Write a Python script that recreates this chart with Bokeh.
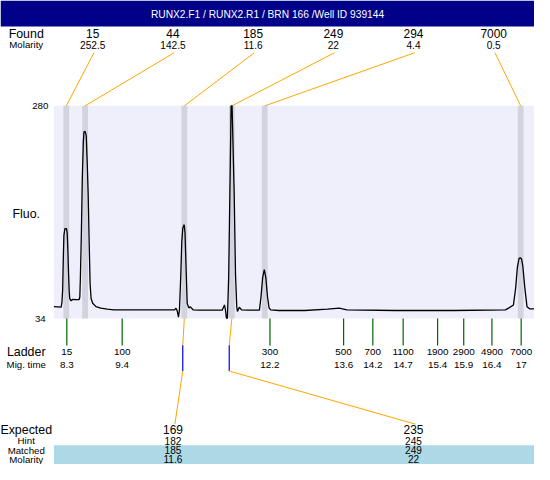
from bokeh.plotting import figure
from bokeh.models import Range1d
from bokeh.embed import file_html
from bokeh.resources import INLINE
from bokeh.core.properties import value

# ---------------- data ----------------
title_text = "RUNX2.F1 / RUNX2.R1 / BRN 166 /Well ID 939144"

fluo_min, fluo_max = 34, 280

found_sizes = ["15", "44", "185", "249", "294", "7000"]
found_molarity = ["252.5", "142.5", "11.6", "22", "4.4", "0.5"]
found_times = [8.29, 8.65, 10.55, 11.46, 12.09, 16.99]

ladder_sizes = ["15", "100", "300", "500", "700", "1100", "1900", "2900", "4900", "7000"]
ladder_times = [8.30, 9.36, 12.19, 13.60, 14.16, 14.74, 15.40, 15.90, 16.44, 17.00]
ladder_time_labels = ["8.3", "9.4", "12.2", "13.6", "14.2", "14.7", "15.4", "15.9", "16.4", "17"]

expected_sizes = ["169", "235"]
hint_sizes = ["182", "245"]
matched_sizes = ["185", "249"]
matched_molarity = ["11.6", "22"]
matched_times = [10.55, 11.46]
hint_times = [10.52, 11.41]
expected_slot = [1, 4]

trace_time = [8.053, 8.192, 8.207, 8.220, 8.233, 8.244, 8.263, 8.294, 8.307, 8.319,
              8.332, 8.345, 8.356, 8.382, 8.406, 8.480, 8.536, 8.549, 8.560, 8.579,
              8.597, 8.616, 8.629, 8.653, 8.672, 8.690, 8.709, 8.728, 8.746, 8.765,
              8.796, 8.858, 8.951, 9.075, 9.200, 9.633, 10.364, 10.390, 10.414, 10.438,
              10.457, 10.483, 10.501, 10.520, 10.538, 10.550, 10.563, 10.587, 10.605, 10.637,
              10.661, 10.717, 10.841, 11.275, 11.319, 11.338, 11.356, 11.375, 11.399, 11.431,
              11.446, 11.464, 11.483, 11.505, 11.530, 11.554, 11.567, 11.604, 11.646, 11.771,
              11.988, 12.018, 12.050, 12.081, 12.111, 12.143, 12.174, 12.204, 12.360, 12.855,
              13.290, 13.518, 13.662, 14.591, 15.707, 16.698, 16.759, 16.852, 16.896, 16.926,
              16.958, 16.982, 17.008, 17.032, 17.069, 17.112, 17.162, 17.255]
trace_fluo = [47.8, 47.1, 53.0, 66.4, 103.7, 129.8, 138.0, 138.0, 133.5, 114.8,
              88.8, 66.4, 57.1, 54.5, 56.0, 55.8, 56.0, 58.9, 81.3, 133.5,
              196.9, 237.8, 250.1, 250.1, 245.3, 215.5, 178.2, 122.3, 73.9, 57.1,
              51.6, 47.75, 46.0, 44.8, 44.1, 44.1, 44.1, 46.0, 42.9, 35.5,
              44.1, 85.4, 122.3, 138.0, 142.1, 142.1, 133.5, 85.4, 51.6, 46.0,
              47.75, 44.1, 43.7, 43.7, 49.7, 44.1, 34.8, 34.0, 81.3, 215.5,
              280.0, 280.0, 234.2, 178.2, 85.4, 47.75, 42.2, 47.1, 44.1, 43.7,
              43.7, 58.9, 81.3, 90.7, 81.3, 58.9, 46.0, 44.1, 43.3, 43.3,
              44.8, 46.0, 44.1, 43.3, 43.3, 44.1, 46.0, 49.7, 70.1, 92.5,
              103.3, 104.4, 102.8, 94.4, 70.1, 47.75, 45.2, 45.2]

# ---------------- layout ----------------
REF_W, REF_H = 550, 480
W, H = 534, 464
S = W / REF_W
X_T0, X_P0, X_K = 8.3, 68.3, 53.79
Y_TOP_PX, Y_BOT_PX = 109, 329
PLOT_LEFT_PX = 55
FONT = "Liberation Sans"


def tx(px):
    return X_T0 + (px - X_P0) / X_K


def fy(py):
    return fluo_min + (Y_BOT_PX - py) * (fluo_max - fluo_min) / (Y_BOT_PX - Y_TOP_PX)


slot_px = [95 + 82.6 * i for i in range(6)]
band_half = 3.0 / X_K

p = figure(width=W, height=H,
           x_range=Range1d(tx(0), tx(REF_W)), y_range=Range1d(fy(REF_H), fy(0)),
           output_backend="svg", toolbar_location=None, min_border=0,
           x_axis_location=None, y_axis_location=None)
p.outline_line_color = None
p.grid.visible = False
p.background_fill_color = "white"
p.border_fill_color = "white"


def txt(xs, ys, texts, size, color="black", align="center"):
    p.text(x=xs, y=ys, text=texts, text_font=value(FONT),
           text_font_size=value(f"{size * S:.1f}px"), text_color=color,
           text_align=align, text_baseline="middle")


# title bar
p.quad(left=[tx(0)], right=[tx(REF_W)], bottom=[fy(27)], top=[fy(0)],
       fill_color="#000088", line_color=None)
txt([tx(275)], [fy(14)], [title_text], 10.5, color="white")

# plot background
p.quad(left=[tx(PLOT_LEFT_PX)], right=[tx(REF_W)], bottom=[fluo_min], top=[fluo_max],
       fill_color="#EFEFFC", line_color=None)

# peak bands
p.quad(left=[t - band_half for t in found_times], right=[t + band_half for t in found_times],
       bottom=[fluo_min] * len(found_times), top=[fluo_max] * len(found_times),
       fill_color="#D3D3E0", line_color=None)

# ladder ticks
p.segment(x0=ladder_times, y0=[fluo_min] * len(ladder_times),
          x1=ladder_times, y1=[fy(357)] * len(ladder_times),
          line_color="#006400", line_width=1.2)

# found connectors
p.segment(x0=[tx(s + 1.3) for s in slot_px], y0=[fy(54)] * 6,
          x1=found_times, y1=[fluo_max] * 6, line_color="#FFA500", line_width=1)

# expected connectors
p.segment(x0=matched_times, y0=[fluo_min] * 2, x1=hint_times, y1=[fy(356.7)] * 2,
          line_color="#FFA500", line_width=1)
p.segment(x0=hint_times, y0=[fy(356.7)] * 2, x1=hint_times, y1=[fy(383.3)] * 2,
          line_color="#0000FF", line_width=1.2)
p.segment(x0=hint_times, y0=[fy(383.3)] * 2,
          x1=[tx(slot_px[i] + 2) for i in expected_slot], y1=[fy(438.3)] * 2,
          line_color="#FFA500", line_width=1)

# trace
p.line(trace_time, trace_fluo, line_color="black", line_width=1.3)

# matched band
p.quad(left=[tx(PLOT_LEFT_PX)], right=[tx(REF_W)], bottom=[fy(480)], top=[fy(460)],
       fill_color="#ADD8E6", line_color=None)

# row labels
LBL_X = tx(26.5)
txt([LBL_X], [fy(34.3)], ["Found"], 12.8)
txt([LBL_X], [fy(46)], ["Molarity"], 10)
txt([LBL_X], [fy(220.7)], ["Fluo."], 12.8)
txt([LBL_X], [fy(363.3)], ["Ladder"], 12.8)
txt([LBL_X], [fy(376.7)], ["Mig. time"], 10)
txt([LBL_X], [fy(444.2)], ["Expected"], 12.8)
txt([LBL_X], [fy(455.2)], ["Hint"], 10)
txt([LBL_X], [fy(465.3)], ["Matched"], 10)
txt([LBL_X], [fy(474.8)], ["Molarity"], 10)

# y labels
txt([tx(41)] * 2, [fluo_max, fluo_min], [str(fluo_max), str(fluo_min)], 10)

# found values
txt([tx(s) for s in slot_px], [fy(34.3)] * 6, found_sizes, 12.3)
txt([tx(s) for s in slot_px], [fy(46)] * 6, found_molarity, 10.4)

# ladder labels
txt(ladder_times, [fy(363.3)] * len(ladder_times), ladder_sizes, 10.2)
txt(ladder_times, [fy(376.7)] * len(ladder_times), ladder_time_labels, 10.2)

# expected table
ex = [tx(slot_px[i]) for i in expected_slot]
txt(ex, [fy(444.2)] * 2, expected_sizes, 12.3)
txt(ex, [fy(455.2)] * 2, hint_sizes, 10.4)
txt(ex, [fy(465.3)] * 2, matched_sizes, 10.4)
txt(ex, [fy(474.8)] * 2, matched_molarity, 10.4)

open("out.html", "w").write(file_html(p, INLINE))
